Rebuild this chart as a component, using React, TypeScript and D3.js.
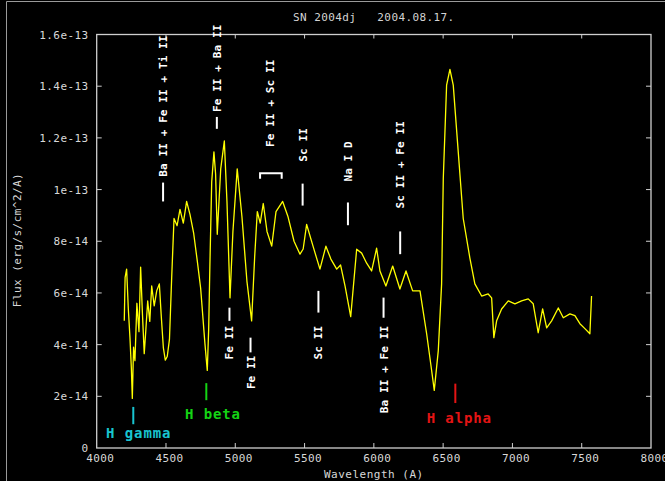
import { useEffect, useRef } from 'react';
import * as d3 from 'd3';

// spectrum of SN 2004dj, flux in units of 1e-14 erg/s/cm^2/A
const WAVELENGTH = [
  4199, 4205, 4216, 4228, 4240, 4250, 4257, 4266, 4276, 4290, 4305, 4317, 4330, 4343,
  4355, 4368, 4383, 4397, 4415, 4433, 4452, 4466, 4481, 4495, 4509, 4525, 4541, 4558,
  4580, 4601, 4625, 4649, 4673, 4700, 4726, 4750, 4781, 4798, 4808, 4817, 4830, 4846,
  4858, 4870, 4895, 4921, 4940, 4962, 4983, 5014, 5048, 5084, 5118, 5140, 5159, 5180,
  5202, 5229, 5263, 5294, 5342, 5380, 5424, 5467, 5490, 5515, 5561, 5611, 5654, 5690,
  5732, 5760, 5792, 5833, 5876, 5912, 5948, 5984, 6020, 6044, 6087, 6136, 6188, 6232,
  6280, 6333, 6381, 6417, 6436, 6465, 6489, 6501, 6525, 6549, 6573, 6609, 6645, 6693,
  6729, 6778, 6825, 6850, 6866, 6886, 6922, 6970, 7018, 7066, 7114, 7150, 7186, 7218,
  7247, 7283, 7331, 7367, 7415, 7451, 7487, 7523, 7559, 7571,
];
const FLUX = [
  4.92, 6.6, 6.92, 5.4, 4.27, 3.1, 1.92, 3.9, 3.38, 5.6, 4.5, 7.0, 5.2, 3.65,
  4.6, 5.69, 4.9, 6.27, 5.5, 6.08, 6.35, 5.1, 3.88, 3.4, 3.54, 4.2, 6.58, 8.88,
  8.6, 9.23, 8.7, 9.54, 9.04, 8.3, 7.23, 6.19, 4.04, 3.0, 4.6, 7.12, 10.3, 11.46,
  10.6, 8.27, 10.8, 11.88, 9.54, 5.81, 8.38, 10.8, 8.96, 6.46, 4.92, 7.4, 9.15, 8.7,
  9.46, 8.38, 7.81, 9.15, 9.54, 8.96, 8.0, 7.5, 7.7, 8.65, 7.81, 6.92, 7.81, 7.31,
  6.92, 7.08, 6.27, 5.08, 7.69, 7.54, 7.15, 6.85, 7.73, 6.85, 6.27, 7.04, 6.15, 6.85,
  6.08, 6.08, 4.42, 3.0, 2.23, 3.77, 6.35, 10.42, 14.04, 14.65, 14.04, 11.46, 8.88, 7.35,
  6.35, 5.88, 5.96, 5.81, 4.27, 4.92, 5.38, 5.69, 5.58, 5.69, 5.77, 5.58, 4.46, 5.38,
  4.65, 4.92, 5.42, 5.04, 5.19, 5.12, 4.81, 4.62, 4.42, 5.88,
];

const X_TICKS = [4000, 4500, 5000, 5500, 6000, 6500, 7000, 7500, 8000];
const Y_TICKS = [0, 2, 4, 6, 8, 10, 12, 14, 16];
const Y_TICK_LABELS = ['0', '2e-14', '4e-14', '6e-14', '8e-14', '1e-13', '1.2e-13', '1.4e-13', '1.6e-13'];

// line identifications above the spectrum: wavelength, marker flux range, text starts at flux
const UPPER_IDS = [
  { wl: 4479, label: 'Ba II + Fe II + Ti II', lo: 9.54, hi: 10.27, text: 10.5 },
  { wl: 4867, label: 'Fe II + Ba II', lo: 12.35, hi: 12.81, text: 13.0 },
  { wl: 5252, label: 'Fe II + Sc II', lo: 0, hi: 0, text: 11.65 },
  { wl: 5486, label: 'Sc II', lo: 9.38, hi: 10.23, text: 11.08 },
  { wl: 5813, label: 'Na I D', lo: 8.62, hi: 9.5, text: 10.31 },
  { wl: 6190, label: 'Sc II + Fe II', lo: 7.5, hi: 8.38, text: 9.27 },
];
// identifications below the spectrum: text ends at flux
const LOWER_IDS = [
  { wl: 4958, label: 'Fe II', lo: 4.92, hi: 5.43, text: 4.73 },
  { wl: 5110, label: 'Fe II', lo: 3.7, hi: 4.27, text: 3.58 },
  { wl: 5600, label: 'Sc II', lo: 5.24, hi: 6.08, text: 4.73 },
  { wl: 6070, label: 'Ba II + Fe II', lo: 5.04, hi: 5.82, text: 4.73 },
];
const BRACKET = { from: 5179, to: 5335, top: 10.63, bottom: 10.42 };

const HYDROGEN = [
  { label: 'H gamma', wl: 4264, lo: 0.92, hi: 1.59, textWl: 4068, textFlux: 0.38, color: '#18c4d0' },
  { label: 'H beta', wl: 4791, lo: 1.85, hi: 2.51, textWl: 4637, textFlux: 1.12, color: '#14d414' },
  { label: 'H alpha', wl: 6588, lo: 1.74, hi: 2.49, textWl: 6381, textFlux: 0.97, color: '#e41414' },
];

const MONO = 'DejaVu Sans Mono, monospace';

export default function App() {
  const svgRef = useRef<SVGSVGElement>(null);

  useEffect(() => {
    if (!svgRef.current) return;
    const width = 665;
    const height = 481;
    const svg = d3.select(svgRef.current);
    svg.selectAll('*').remove();

    const xScale = d3.scaleLinear().domain([4000, 8000]).range([96.7, 651]);
    const yScale = d3.scaleLinear().domain([0, 16]).range([448, 34.5]);
    const [x0, x1] = xScale.range();
    const [yb, yt] = yScale.range();

    svg.append('rect').attr('width', width).attr('height', height).attr('fill', '#000');
    // frame of the original screenshot
    svg
      .append('path')
      .attr('d', `M6.5,${height}V1.5H${width}`)
      .attr('fill', 'none')
      .attr('stroke', '#9a9a9a');

    const axisColor = '#cfcfcf';
    svg
      .append('rect')
      .attr('x', x0)
      .attr('y', yt)
      .attr('width', x1 - x0)
      .attr('height', yb - yt)
      .attr('fill', 'none')
      .attr('stroke', axisColor)
      .attr('stroke-width', 1.3);

    const innerX = X_TICKS.slice(1, -1);
    const innerY = Y_TICKS.slice(1, -1);
    svg
      .append('g')
      .selectAll('path')
      .data(innerX)
      .join('path')
      .attr('d', (d) => `M${xScale(d)},${yb}v-5M${xScale(d)},${yt}v4`)
      .attr('stroke', axisColor);
    svg
      .append('g')
      .selectAll('path')
      .data(innerY)
      .join('path')
      .attr('d', (d) => `M${x0},${yScale(d)}h5M${x1},${yScale(d)}h-5`)
      .attr('stroke', axisColor);

    svg
      .append('g')
      .selectAll('text')
      .data(X_TICKS)
      .join('text')
      .attr('x', (d) => xScale(d) + 3.5)
      .attr('y', 462)
      .attr('text-anchor', 'middle')
      .text((d) => String(d));
    svg
      .append('g')
      .selectAll('text')
      .data(Y_TICKS)
      .join('text')
      .attr('x', 88.5)
      .attr('y', (d) => yScale(d) + 4)
      .attr('text-anchor', 'end')
      .text((_, i) => Y_TICK_LABELS[i]);
    svg
      .selectAll('g text')
      .attr('font-family', MONO)
      .attr('font-size', 11)
      .attr('letter-spacing', 0.4)
      .attr('fill', '#d8d8d8');

    svg
      .append('text')
      .attr('x', (x0 + x1) / 2)
      .attr('y', 478)
      .attr('text-anchor', 'middle')
      .attr('font-family', MONO)
      .attr('font-size', 11)
      .attr('letter-spacing', 0.5)
      .attr('fill', '#d8d8d8')
      .text('Wavelength (A)');
    svg
      .append('text')
      .attr('transform', `translate(21,240) rotate(-90)`)
      .attr('text-anchor', 'middle')
      .attr('font-family', MONO)
      .attr('font-size', 11)
      .attr('letter-spacing', 0.45)
      .attr('fill', '#d8d8d8')
      .text('Flux (erg/s/cm^2/A)');
    svg
      .append('text')
      .attr('x', (x0 + x1) / 2)
      .attr('y', 21)
      .attr('text-anchor', 'middle')
      .attr('font-family', MONO)
      .attr('font-size', 11)
      .attr('letter-spacing', 0.4)
      .attr('fill', '#d4d4d4')
      .attr('xml:space', 'preserve')
      .style('white-space', 'pre')
      .text('SN 2004dj   2004.08.17.');

    // spectrum
    const points = WAVELENGTH.map((w, i) => [w, FLUX[i]] as [number, number]);
    const line = d3
      .line<[number, number]>()
      .x((d) => xScale(d[0]))
      .y((d) => yScale(d[1]));
    svg
      .append('path')
      .attr('d', line(points))
      .attr('fill', 'none')
      .attr('stroke', '#ffff00')
      .attr('stroke-width', 1.3)
      .attr('stroke-linejoin', 'round');

    // line identifications
    const ids = svg.append('g').attr('fill', '#fff');
    [...UPPER_IDS, ...LOWER_IDS]
      .filter((d) => d.hi > d.lo)
      .forEach((d) => {
        ids
          .append('line')
          .attr('x1', xScale(d.wl))
          .attr('x2', xScale(d.wl))
          .attr('y1', yScale(d.lo))
          .attr('y2', yScale(d.hi))
          .attr('stroke', '#fff')
          .attr('stroke-width', 2);
      });
    UPPER_IDS.forEach((d) => {
      ids
        .append('text')
        .attr('transform', `translate(${xScale(d.wl) + 4},${yScale(d.text)}) rotate(-90)`)
        .attr('text-anchor', 'start')
        .text(d.label);
    });
    LOWER_IDS.forEach((d) => {
      ids
        .append('text')
        .attr('transform', `translate(${xScale(d.wl) + 4},${yScale(d.text)}) rotate(-90)`)
        .attr('text-anchor', 'end')
        .text(d.label);
    });
    ids
      .selectAll('text')
      .attr('font-family', MONO)
      .attr('font-size', 11)
      .attr('font-weight', 'bold')
      .attr('letter-spacing', 0.1);
    ids
      .append('path')
      .attr(
        'd',
        `M${xScale(BRACKET.from)},${yScale(BRACKET.bottom)}V${yScale(BRACKET.top)}H${xScale(
          BRACKET.to
        )}V${yScale(BRACKET.bottom)}`
      )
      .attr('fill', 'none')
      .attr('stroke', '#fff')
      .attr('stroke-width', 2);

    // hydrogen lines
    HYDROGEN.forEach((d) => {
      svg
        .append('line')
        .attr('x1', xScale(d.wl))
        .attr('x2', xScale(d.wl))
        .attr('y1', yScale(d.lo))
        .attr('y2', yScale(d.hi))
        .attr('stroke', d.color)
        .attr('stroke-width', 2);
      svg
        .append('text')
        .attr('x', xScale(d.textWl))
        .attr('y', yScale(d.textFlux))
        .attr('font-family', MONO)
        .attr('font-size', 14)
        .attr('font-weight', 'bold')
        .attr('letter-spacing', 0.9)
        .attr('fill', d.color)
        .text(d.label);
    });
  }, []);

  return (
    <svg
      ref={svgRef}
      width={665}
      height={481}
      style={{ position: 'fixed', left: 0, top: 0, display: 'block' }}
    />
  );
}
